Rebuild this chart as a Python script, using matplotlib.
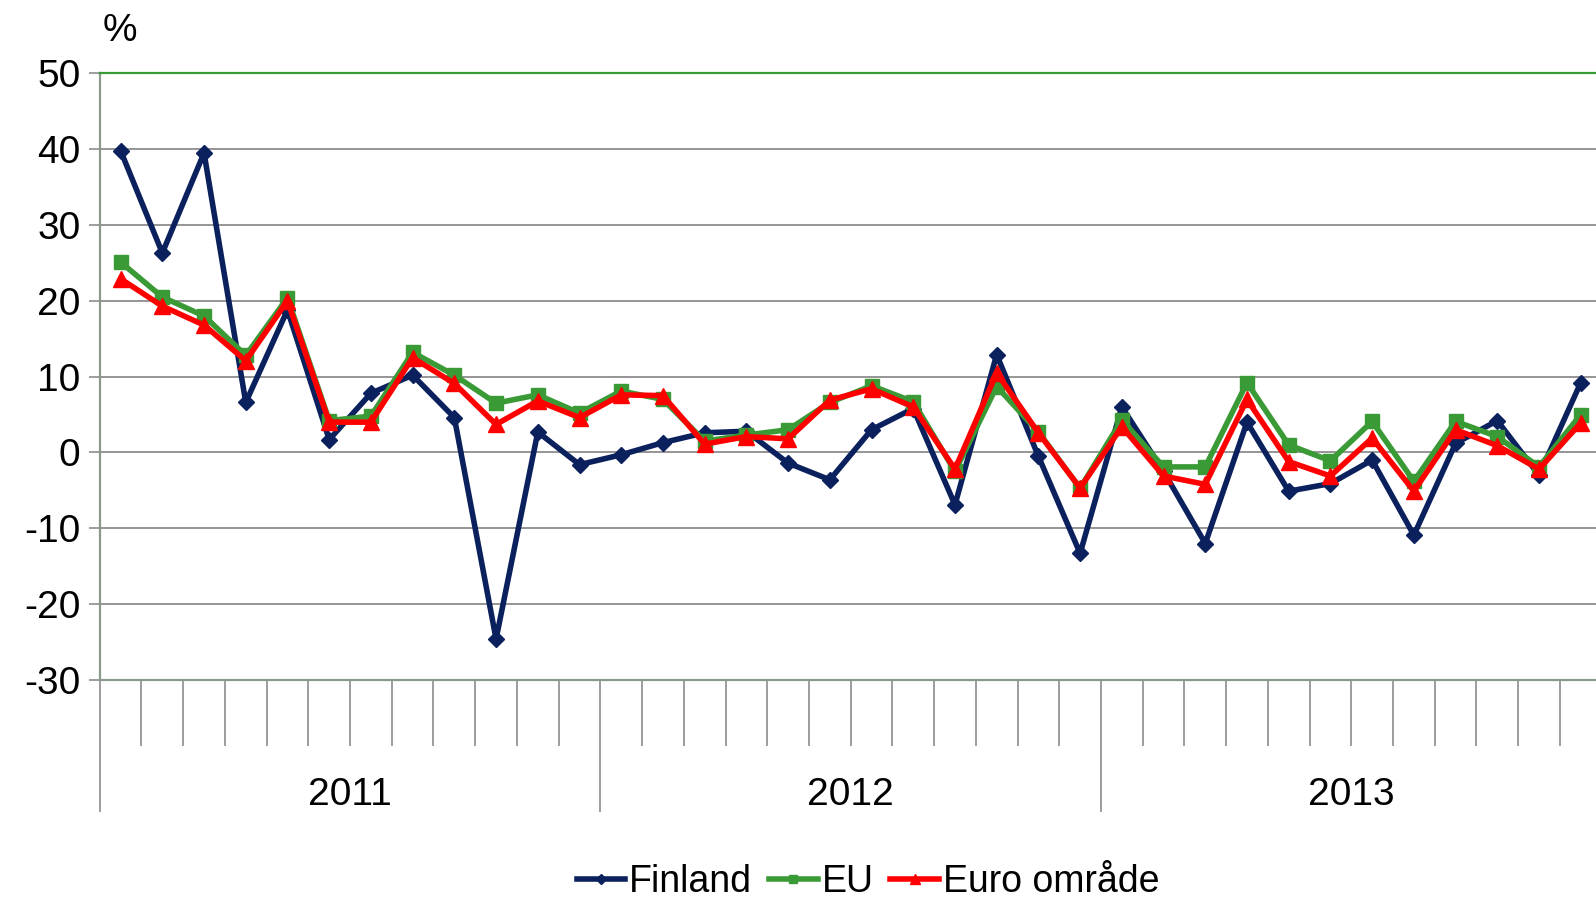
import numpy as np
import matplotlib
matplotlib.use("Agg")
import matplotlib.pyplot as plt
import matplotlib.transforms as mtransforms

# Monthly change, %, Jan 2011 - Dec 2013
years = ["2011", "2012", "2013"]
finland = [39.8, 26.3, 39.5, 6.6, 18.8, 1.7, 7.8, 10.2, 4.6, -24.6, 2.7, -1.6,
           -0.3, 1.3, 2.6, 2.8, -1.4, -3.6, 3.0, 5.8, -6.9, 12.9, -0.5, -13.3,
           6.0, -2.5, -12.0, 4.0, -5.1, -4.1, -1.0, -10.9, 1.2, 4.2, -3.0, 9.2]
eu = [25.1, 20.5, 18.0, 12.8, 20.4, 4.2, 4.8, 13.2, 10.2, 6.5, 7.6, 5.2,
      8.1, 7.0, 1.5, 2.3, 3.0, 6.6, 8.8, 6.7, -2.5, 8.7, 2.7, -4.7,
      4.3, -1.9, -1.9, 9.2, 1.0, -1.1, 4.1, -3.8, 4.1, 2.1, -1.9, 5.0]
euro = [22.9, 19.3, 16.8, 12.1, 20.0, 4.0, 4.0, 12.5, 9.1, 3.7, 6.8, 4.6,
        7.6, 7.5, 1.1, 2.1, 1.8, 6.9, 8.4, 6.0, -2.2, 10.5, 2.6, -4.7,
        3.4, -3.1, -4.2, 7.0, -1.2, -3.1, 1.9, -5.1, 3.0, 0.9, -2.2, 3.9]

FS = 28
plt.rcParams['font.family'] = ['Liberation Sans', 'DejaVu Sans']
plt.rcParams['axes.unicode_minus'] = False

fig = plt.figure(figsize=(15.96, 8.97), dpi=100)
ax = fig.add_axes([0.0625, 0.2419, 0.941, 0.6764])

x = np.arange(len(finland))
ax.plot(x, finland, color='#0b215e', lw=4, marker='D', ms=8, label='Finland', zorder=3)
ax.plot(x, eu, color='#3a9a35', lw=4, marker='s', ms=10, label='EU', zorder=4)
ax.plot(x, euro, color='#ff0000', lw=4, marker='^', ms=11, label='Euro område', zorder=5)

ax.set_xlim(-0.5, len(finland) - 0.5)
ax.set_ylim(-30, 50)
ax.set_yticks(np.arange(-30, 51, 10))
ax.yaxis.grid(True, color='#8c8c8c', lw=1.3)
ax.set_axisbelow(True)
ax.tick_params(axis='y', labelsize=FS, length=8, width=1.2, color='#8c8c8c', pad=6)

ax.spines['right'].set_visible(False)
ax.spines['top'].set_color('#3a9a35')
ax.spines['top'].set_linewidth(1.6)
ax.spines['left'].set_color('#8a9a8a')
ax.spines['left'].set_linewidth(1.6)
ax.spines['bottom'].set_color('#8a9a8a')
ax.spines['bottom'].set_linewidth(1.6)

# month ticks between categories, year separators longer
bounds = np.arange(-0.5, len(finland), 1.0)
year_bounds = [b for b in bounds if (b + 0.5) % 12 == 0]
month_bounds = [b for b in bounds if (b + 0.5) % 12 != 0]
ax.set_xticks(year_bounds)
ax.set_xticks(month_bounds, minor=True)
ax.set_xticklabels([])
ax.tick_params(axis='x', which='major', length=95, width=1.2, color='#8c8c8c')
ax.tick_params(axis='x', which='minor', length=47.5, width=1.2, color='#8c8c8c')

trans = mtransforms.blended_transform_factory(ax.transData, fig.transFigure)
for i, yr in enumerate(years):
    ax.text(i * 12 + 5.5, 1 - 795 / 897, yr, transform=trans, ha='center', va='center',
            fontsize=FS)

fig.text(120 / 1596, 1 - 31 / 897, '%', ha='center', va='center', fontsize=FS)

fig.legend(loc='center', bbox_to_anchor=(868 / 1596, 1 - 882 / 897), ncol=3,
           frameon=False, fontsize=27, handlelength=1.3, handletextpad=0.1,
           columnspacing=0.45, markerscale=0.6)

fig.savefig('out.png', dpi=100)
